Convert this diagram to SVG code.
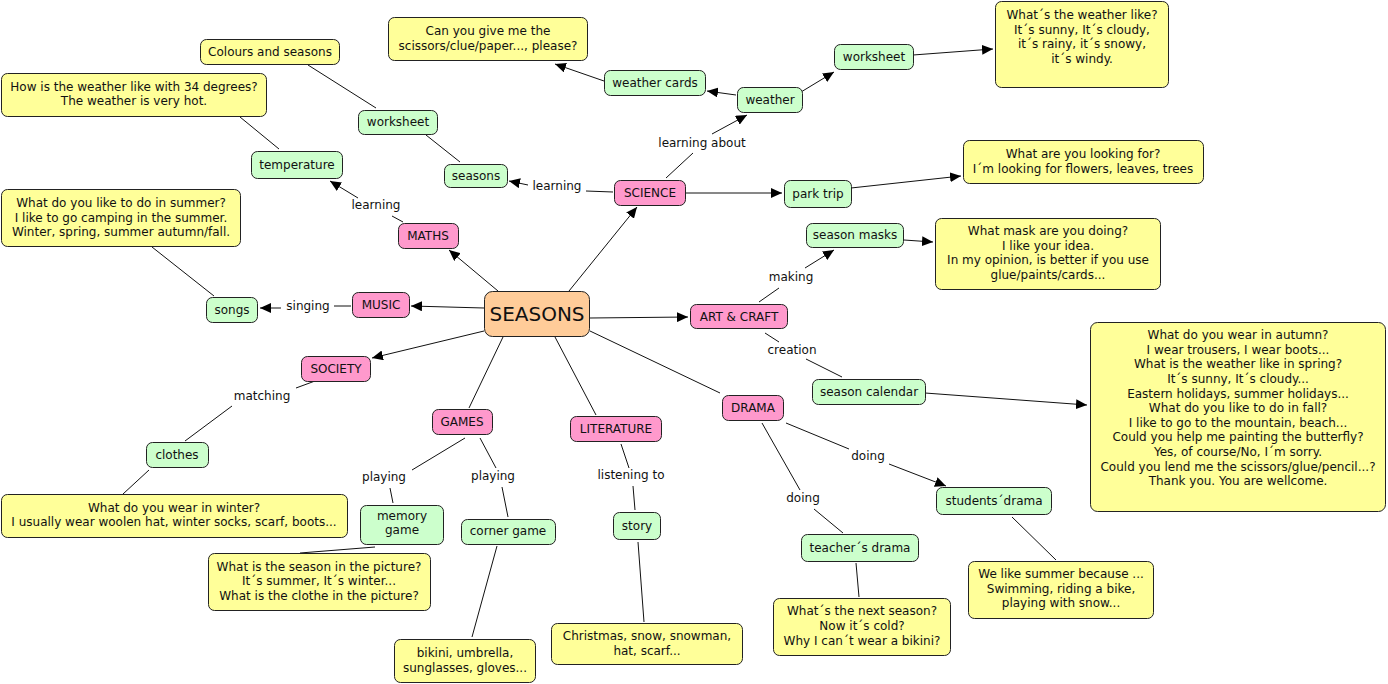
<svg xmlns="http://www.w3.org/2000/svg" width="1388" height="684" viewBox="0 0 1388 684">
<defs>
<style>
text{font-family:"DejaVu Sans","Noto Sans",sans-serif;font-size:12px;fill:#111;text-anchor:middle}
.big{font-size:20px}
rect{stroke:#222;stroke-width:1}
.y{fill:#ffff99}.g{fill:#ccffcc}.p{fill:#ff99cc}.o{fill:#ffcc99}
.c line,.c polyline{stroke:#111;stroke-width:1;fill:none}
.a{marker-end:url(#ah)}
</style>
<marker id="ah" markerUnits="userSpaceOnUse" markerWidth="12" markerHeight="10" refX="11" refY="5" orient="auto"><path d="M0,0 L11,5 L0,10 z" fill="#000"/></marker>
</defs>
<rect x="0" y="0" width="1388" height="684" fill="#fff" style="stroke:none"/>
<g id="connectors" class="c">
<line class="a" x1="569" y1="291" x2="637" y2="207"/>
<line class="a" x1="498" y1="291" x2="449" y2="250"/>
<line class="a" x1="484" y1="308" x2="411" y2="306"/>
<line class="a" x1="484" y1="331" x2="372" y2="358"/>
<line class="a" x1="590" y1="318" x2="688" y2="317"/>
<line x1="503" y1="337" x2="469" y2="408"/>
<line x1="555" y1="337" x2="596" y2="415"/>
<line x1="590" y1="331" x2="720" y2="393"/>
<line x1="403" y1="222" x2="392" y2="216"/>
<line class="a" x1="358" y1="198" x2="330" y2="181"/>
<line x1="613" y1="192" x2="586" y2="191"/>
<line class="a" x1="528" y1="185" x2="509" y2="181"/>
<line x1="666" y1="178" x2="693" y2="153"/>
<line class="a" x1="712" y1="134" x2="747" y2="115"/>
<line class="a" x1="686" y1="193" x2="782" y2="193"/>
<line class="a" x1="736" y1="95" x2="707" y2="91"/>
<line class="a" x1="801" y1="92" x2="834" y2="72"/>
<line class="a" x1="913" y1="55" x2="993" y2="49"/>
<line class="a" x1="604" y1="81" x2="555" y2="64"/>
<line class="a" x1="851" y1="188" x2="961" y2="176"/>
<line x1="376" y1="108" x2="308" y2="65"/>
<line x1="460" y1="162" x2="426" y2="135"/>
<line x1="279" y1="149" x2="240" y2="117"/>
<line x1="214" y1="296" x2="152" y2="247"/>
<line x1="351" y1="306" x2="334" y2="306"/>
<line class="a" x1="281" y1="308" x2="260" y2="308"/>
<line x1="315" y1="381" x2="296" y2="388"/>
<line x1="232" y1="406" x2="185" y2="441"/>
<line x1="149" y1="470" x2="123" y2="494"/>
<line x1="759" y1="302" x2="779" y2="288"/>
<line class="a" x1="805" y1="268" x2="834" y2="250"/>
<line class="a" x1="904" y1="240" x2="933" y2="242"/>
<line x1="765" y1="333" x2="779" y2="342"/>
<line x1="806" y1="359" x2="842" y2="377"/>
<line class="a" x1="925" y1="393" x2="1087" y2="405"/>
<line x1="465" y1="438" x2="412" y2="470"/>
<line x1="390" y1="488" x2="393" y2="503"/>
<line x1="480" y1="438" x2="496" y2="468"/>
<line x1="502" y1="487" x2="508" y2="517"/>
<line x1="375" y1="547" x2="300" y2="553"/>
<line x1="497" y1="546" x2="472" y2="637"/>
<line x1="621" y1="444" x2="629" y2="468"/>
<line x1="633" y1="486" x2="635" y2="510"/>
<line x1="638" y1="542" x2="644" y2="622"/>
<line x1="762" y1="423" x2="800" y2="490"/>
<line x1="814" y1="509" x2="843" y2="533"/>
<line x1="786" y1="423" x2="849" y2="449"/>
<line class="a" x1="889" y1="464" x2="946" y2="486"/>
<line x1="856" y1="563" x2="859" y2="597"/>
<line x1="1012" y1="517" x2="1056" y2="560"/>
</g>
<g id="link-labels">
<text x="376" y="209">learning</text>
<text x="557" y="190">learning</text>
<text x="702" y="147">learning about</text>
<text x="308" y="310">singing</text>
<text x="262" y="400">matching</text>
<text x="791" y="281">making</text>
<text x="792" y="354">creation</text>
<text x="384" y="481">playing</text>
<text x="493" y="480">playing</text>
<text x="631" y="479">listening to</text>
<text x="803" y="502">doing</text>
<text x="868" y="460">doing</text>
</g>
<g id="n-colours"><rect class="y" x="200.5" y="39.5" width="139" height="25" rx="6"/><text x="270" y="56">Colours and seasons</text></g>
<g id="n-howis"><rect class="y" x="1.5" y="73.5" width="265" height="43" rx="6"/><text x="134" y="91">How is the weather like with 34 degrees?</text><text x="134" y="105">The weather is very hot.</text></g>
<g id="n-canyou"><rect class="y" x="388.5" y="17.5" width="199" height="43" rx="6"/><text x="488" y="35">Can you give me the</text><text x="488" y="50">scissors/clue/paper..., please?</text></g>
<g id="n-worksheet1"><rect class="g" x="358.5" y="110.5" width="79" height="24" rx="6"/><text x="398" y="126">worksheet</text></g>
<g id="n-temperature"><rect class="g" x="251.5" y="151.5" width="91" height="27" rx="6"/><text x="297" y="169">temperature</text></g>
<g id="n-seasons"><rect class="g" x="444.5" y="164.5" width="63" height="23" rx="6"/><text x="476" y="180">seasons</text></g>
<g id="n-weathercards"><rect class="g" x="604.5" y="70.5" width="101" height="25" rx="6"/><text x="655" y="87">weather cards</text></g>
<g id="n-weather"><rect class="g" x="737.5" y="87.5" width="65" height="25" rx="6"/><text x="770" y="104">weather</text></g>
<g id="n-worksheet2"><rect class="g" x="834.5" y="44.5" width="79" height="25" rx="6"/><text x="874" y="61">worksheet</text></g>
<g id="n-whatsweather"><rect class="y" x="995.5" y="1.5" width="173" height="86" rx="6"/><text x="1082" y="19">What´s the weather like?</text><text x="1082" y="34">It´s sunny, It´s cloudy,</text><text x="1082" y="48">it´s rainy, it´s snowy,</text><text x="1082" y="63">it´s windy.</text></g>
<g id="n-science"><rect class="p" x="614.5" y="180.5" width="71" height="25" rx="6"/><text x="650" y="197">SCIENCE</text></g>
<g id="n-parktrip"><rect class="g" x="784.5" y="180.5" width="67" height="27" rx="6"/><text x="818" y="198">park trip</text></g>
<g id="n-lookingfor"><rect class="y" x="963.5" y="140.5" width="240" height="43" rx="6"/><text x="1083" y="158">What are you looking for?</text><text x="1083" y="173">I´m looking for flowers, leaves, trees</text></g>
<g id="n-summer"><rect class="y" x="1.5" y="189.5" width="239" height="57" rx="6"/><text x="121" y="207">What do you like to do in summer?</text><text x="121" y="222">I like to go camping in the summer.</text><text x="121" y="236">Winter, spring, summer autumn/fall.</text></g>
<g id="n-maths"><rect class="p" x="398.5" y="223.5" width="60" height="25" rx="6"/><text x="428" y="240">MATHS</text></g>
<g id="n-masks"><rect class="g" x="806.5" y="223.5" width="97" height="24" rx="6"/><text x="855" y="239">season masks</text></g>
<g id="n-whatmask"><rect class="y" x="935.5" y="218.5" width="225" height="71" rx="6"/><text x="1048" y="235">What mask are you doing?</text><text x="1048" y="250">I like your idea.</text><text x="1048" y="264">In my opinion, is better if you use</text><text x="1048" y="279">glue/paints/cards...</text></g>
<g id="n-songs"><rect class="g" x="206.5" y="297.5" width="51" height="25" rx="6"/><text x="232" y="314">songs</text></g>
<g id="n-music"><rect class="p" x="352.5" y="292.5" width="57" height="25" rx="6"/><text x="381" y="309">MUSIC</text></g>
<g id="n-seasons-main"><rect class="o" x="484.5" y="291.5" width="105" height="45" rx="8"/><text class="big" x="537" y="321">SEASONS</text></g>
<g id="n-artcraft"><rect class="p" x="690.5" y="304.5" width="97" height="24" rx="6"/><text x="739" y="321">ART &amp; CRAFT</text></g>
<g id="n-society"><rect class="p" x="301.5" y="356.5" width="69" height="25" rx="6"/><text x="336" y="373">SOCIETY</text></g>
<g id="n-calendar"><rect class="g" x="812.5" y="379.5" width="113" height="25" rx="6"/><text x="869" y="396">season calendar</text></g>
<g id="n-autumn"><rect class="y" x="1090.5" y="322.5" width="295" height="189" rx="7"/><text x="1238" y="339">What do you wear in autumn?</text><text x="1238" y="354">I wear trousers, I wear boots...</text><text x="1238" y="368">What is the weather like in spring?</text><text x="1238" y="383">It´s sunny, It´s cloudy...</text><text x="1238" y="398">Eastern holidays, summer holidays...</text><text x="1238" y="412">What do you like to do in fall?</text><text x="1238" y="427">I like to go to the mountain, beach...</text><text x="1238" y="441">Could you help me painting the butterfly?</text><text x="1238" y="456">Yes, of course/No, I´m sorry.</text><text x="1238" y="471">Could you lend me the scissors/glue/pencil...?</text><text x="1238" y="485">Thank you. You are wellcome.</text></g>
<g id="n-games"><rect class="p" x="432.5" y="409.5" width="60" height="25" rx="6"/><text x="462" y="426">GAMES</text></g>
<g id="n-literature"><rect class="p" x="570.5" y="416.5" width="91" height="25" rx="6"/><text x="616" y="433">LITERATURE</text></g>
<g id="n-drama"><rect class="p" x="722.5" y="395.5" width="61" height="25" rx="6"/><text x="753" y="412">DRAMA</text></g>
<g id="n-clothes"><rect class="g" x="146.5" y="442.5" width="62" height="25" rx="6"/><text x="177" y="459">clothes</text></g>
<g id="n-winter"><rect class="y" x="1.5" y="494.5" width="346" height="43" rx="6"/><text x="174" y="512">What do you wear in winter?</text><text x="174" y="526">I usually wear woolen hat, winter socks, scarf, boots...</text></g>
<g id="n-memory"><rect class="g" x="360.5" y="505.5" width="83" height="39" rx="6"/><text x="402" y="520">memory</text><text x="402" y="534">game</text></g>
<g id="n-corner"><rect class="g" x="461.5" y="519.5" width="94" height="25" rx="6"/><text x="508" y="535">corner game</text></g>
<g id="n-story"><rect class="g" x="613.5" y="512.5" width="47" height="27" rx="6"/><text x="637" y="530">story</text></g>
<g id="n-studentsdrama"><rect class="g" x="936.5" y="487.5" width="115" height="27" rx="6"/><text x="994" y="505">students´drama</text></g>
<g id="n-teachersdrama"><rect class="g" x="801.5" y="534.5" width="117" height="27" rx="6"/><text x="860" y="552">teacher´s drama</text></g>
<g id="n-picture"><rect class="y" x="208.5" y="553.5" width="222" height="57" rx="6"/><text x="319" y="571">What is the season in the picture?</text><text x="319" y="585">It´s summer, It´s winter...</text><text x="319" y="600">What is the clothe in the picture?</text></g>
<g id="n-bikini"><rect class="y" x="394.5" y="639.5" width="141" height="43" rx="6"/><text x="465" y="657">bikini, umbrella,</text><text x="465" y="672">sunglasses, gloves...</text></g>
<g id="n-christmas"><rect class="y" x="551.5" y="623.5" width="191" height="41" rx="6"/><text x="647" y="640">Christmas, snow, snowman,</text><text x="647" y="655">hat, scarf...</text></g>
<g id="n-nextseason"><rect class="y" x="773.5" y="598.5" width="177" height="57" rx="6"/><text x="862" y="615">What´s the next season?</text><text x="862" y="630">Now it´s cold?</text><text x="862" y="645">Why I can´t wear a bikini?</text></g>
<g id="n-likesummer"><rect class="y" x="968.5" y="561.5" width="185" height="57" rx="6"/><text x="1061" y="578">We like summer because ...</text><text x="1061" y="593">Swimming, riding a bike,</text><text x="1061" y="607">playing with snow...</text></g>
</svg>
